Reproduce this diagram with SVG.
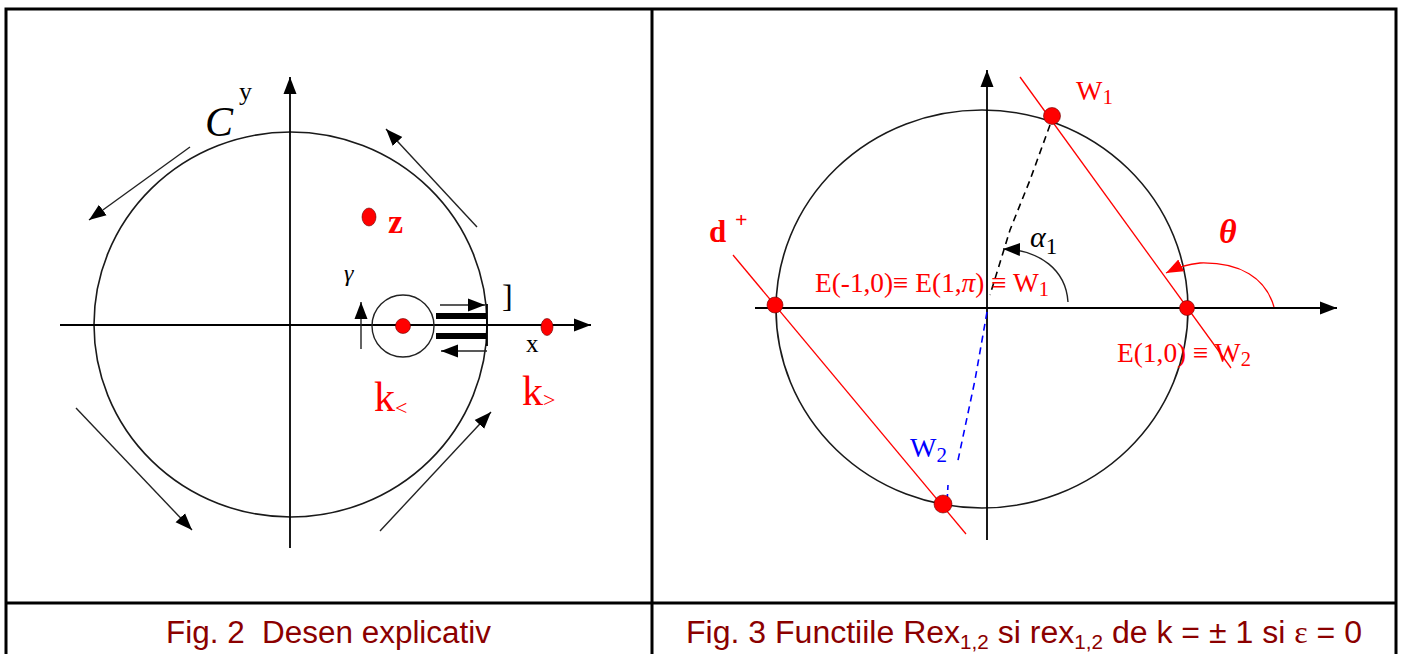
<svg xmlns="http://www.w3.org/2000/svg" width="1402" height="654" viewBox="0 0 1402 654">
<style>
.frame{fill:none;stroke:#000;stroke-width:3}
.curve{fill:none;stroke:#1a1a1a;stroke-width:1.6}
.axis{fill:none;stroke:#000;stroke-width:1.8}
.thin{fill:none;stroke:#222;stroke-width:1.4}
.red{fill:none;stroke:#ff0000;stroke-width:1.3}
.dot{fill:#ff0000;stroke:#600;stroke-width:0.6}
.lbl{font-family:"Liberation Serif","Times New Roman",serif}
.rt{fill:#ff0000}
.cap{font-family:"Liberation Sans",Arial,sans-serif;font-size:31px;fill:#8b0000}
</style>
<defs>
<marker id="ah" markerUnits="userSpaceOnUse" markerWidth="20" markerHeight="16" refX="17" refY="8" orient="auto"><path d="M0,1.5 L17,8 L0,14.5 Z" fill="#000"/></marker>
<marker id="ahr" markerUnits="userSpaceOnUse" markerWidth="20" markerHeight="16" refX="17" refY="8" orient="auto"><path d="M0,1.5 L17,8 L0,14.5 Z" fill="#ff0000"/></marker>
</defs>
<rect width="1402" height="654" fill="#fff"/>
<g id="table">
<rect class="frame" x="6" y="9" width="1390" height="660"/>
<line class="frame" x1="652" y1="9" x2="652" y2="654"/>
<line class="frame" x1="6" y1="603" x2="1396" y2="603"/>
</g>

<g id="fig2">
<ellipse class="curve" cx="290.5" cy="324.5" rx="196.5" ry="192.5"/>
<g id="fig2-axes">
<line class="axis" x1="60" y1="325" x2="591" y2="325" marker-end="url(#ah)"/>
<line class="axis" x1="290" y1="548" x2="290" y2="77" marker-end="url(#ah)"/>
</g>
<g id="fig2-arrows">
<line class="thin" x1="477" y1="227" x2="386" y2="129" marker-end="url(#ah)"/>
<line class="thin" x1="190" y1="147" x2="89" y2="220" marker-end="url(#ah)"/>
<line class="thin" x1="76" y1="408" x2="192" y2="530" marker-end="url(#ah)"/>
<line class="thin" x1="380" y1="531" x2="491" y2="412" marker-end="url(#ah)"/>
<line class="thin" x1="361" y1="349" x2="361" y2="302" marker-end="url(#ah)"/>
<line class="thin" x1="440" y1="305" x2="485" y2="305" marker-end="url(#ah)"/>
<line class="thin" x1="487" y1="351" x2="441" y2="351" marker-end="url(#ah)"/>
</g>
<g id="fig2-cut">
<circle class="thin" cx="403" cy="326" r="31"/>
<rect x="436" y="313" width="51" height="6" fill="#000"/>
<rect x="436" y="333" width="51" height="6" fill="#000"/>
<line class="axis" x1="487" y1="304" x2="487" y2="346"/>
</g>
<g id="fig2-points">
<circle class="dot" cx="403" cy="326" r="7.5"/>
<ellipse class="dot" cx="369" cy="217" rx="7" ry="9"/>
<ellipse class="dot" cx="547" cy="327" rx="6" ry="8.5"/>
</g>
<g id="fig2-labels" class="lbl">
<text x="205" y="136" font-size="42" font-style="italic">C</text>
<text x="239" y="100" font-size="26">y</text>
<text x="388" y="233" font-size="34" font-weight="bold" class="rt">z</text>
<text x="344" y="281" font-size="24" font-style="italic">γ</text>
<text x="502" y="307" font-size="32">]</text>
<text x="526" y="352" font-size="25">x</text>
<text x="374" y="411" font-size="42" class="rt">k<tspan font-size="22" dy="4">&lt;</tspan></text>
<text x="522" y="405" font-size="42" class="rt">k<tspan font-size="22" dy="2">&gt;</tspan></text>
</g>
</g>

<g id="fig3">
<ellipse class="curve" cx="982" cy="309" rx="206" ry="199"/>
<g id="fig3-axes">
<line class="axis" x1="755" y1="308" x2="1337" y2="308" marker-end="url(#ah)"/>
<line class="axis" x1="987" y1="540" x2="987" y2="70" marker-end="url(#ah)"/>
</g>
<g id="fig3-lines">
<line class="red" x1="1020" y1="77" x2="1231" y2="368"/>
<line class="red" x1="733" y1="255" x2="966" y2="534"/>
<path d="M1050,125 L1030,180 L1010,230 L990,295" fill="none" stroke="#000" stroke-width="1.6" stroke-dasharray="7,5"/>
<path d="M987,312 L975,380 L957,465" fill="none" stroke="#0000ff" stroke-width="1.6" stroke-dasharray="7,5"/>
<path d="M948,485 L947,503" fill="none" stroke="#0000ff" stroke-width="1.6" stroke-dasharray="5,4"/>
<path d="M1068,302 C1066,270 1040,250 1003,249" class="thin" marker-end="url(#ah)"/>
<path d="M1274,307 C1266,278 1240,262 1200,263 C1188,264 1178,267 1166,273" class="red" marker-end="url(#ahr)"/>
</g>
<g id="fig3-points">
<circle class="dot" cx="1052" cy="116" r="8.5"/>
<circle class="dot" cx="775" cy="305" r="8"/>
<circle class="dot" cx="1187" cy="308" r="7.5"/>
<circle class="dot" cx="943" cy="504" r="9"/>
</g>
<g id="fig3-labels" class="lbl">
<text x="1076" y="100" font-size="28" class="rt">W<tspan font-size="21" dy="4">1</tspan></text>
<text x="815" y="292" font-size="28" class="rt" textLength="234" lengthAdjust="spacingAndGlyphs">E(-1,0)≡ E(1,<tspan font-style="italic">π</tspan>) ≡ W<tspan font-size="21" dy="4">1</tspan></text>
<text x="1117" y="362" font-size="28" class="rt" textLength="134" lengthAdjust="spacingAndGlyphs">E(1,0) ≡ W<tspan font-size="21" dy="4">2</tspan></text>
<text x="910" y="457" font-size="28" fill="#0000ff">W<tspan font-size="21" dy="5">2</tspan></text>
<text x="1219" y="243" font-size="34" font-weight="bold" font-style="italic" class="rt">θ</text>
<text x="1030" y="247" font-size="30" font-style="italic">α<tspan font-size="23" font-style="normal" dy="7">1</tspan></text>
<text x="709" y="242" font-size="31" font-weight="bold" class="rt">d</text>
<text x="735" y="227" font-size="22" font-weight="bold" class="rt">+</text>
</g>
</g>

<g id="captions">
<text class="cap" x="166" y="643" xml:space="preserve" textLength="325" lengthAdjust="spacingAndGlyphs">Fig. 2  Desen explicativ</text>
<text class="cap" x="686" y="643" textLength="676" lengthAdjust="spacingAndGlyphs">Fig. 3 Functiile Rex<tspan font-size="20" dy="6">1,2</tspan><tspan dy="-6"> si rex</tspan><tspan font-size="20" dy="6">1,2</tspan><tspan dy="-6"> de k = ± 1 si </tspan><tspan font-family="Liberation Serif,serif">ε</tspan> = 0</text>
</g>
</svg>
